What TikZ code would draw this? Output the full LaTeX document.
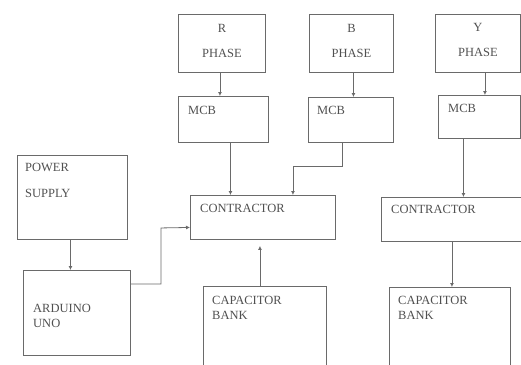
\documentclass[tikz,border=0pt]{standalone}
\usepackage{fontspec}
\setmainfont{Liberation Serif}
\usetikzlibrary{arrows.meta, positioning}
\definecolor{line_gray}{HTML}{6A6A6A}
\definecolor{text_gray}{HTML}{505050}
\tikzstyle{block_node} = [rectangle, draw=line_gray, line width=0.9pt, anchor=north west, inner sep=0pt]
\tikzstyle{block_text} = [font=\fontsize{12.5}{14}\selectfont, text=text_gray, inner sep=0pt, align=left]
\tikzstyle{wire_arrow} = [draw=line_gray, line width=0.8pt, -{Latex[length=4pt, width=4pt]}]

\begin{document}
\begin{tikzpicture}[x=1pt, y=-1pt]
\useasboundingbox (0,0) rectangle (521,364);

% phase sources
\node (r_phase) [block_node, minimum width=87pt, minimum height=58pt] at (178,14) {};
\node (b_phase) [block_node, minimum width=84pt, minimum height=58pt] at (309,14) {};
\node (y_phase) [block_node, minimum width=85pt, minimum height=58pt] at (435,14) {};
\node (r_txt) [block_text, align=center, below=10pt of r_phase.north] {R\\[11pt]PHASE};
\node (b_txt) [block_text, align=center, below=10pt of b_phase.north] {B\\[11pt]PHASE};
\node (y_txt) [block_text, align=center, below=9pt of y_phase.north] {Y\\[11pt]PHASE};

% breakers
\node (mcb_r) [block_node, minimum width=90pt, minimum height=46pt] at (178,96) {};
\node (mcb_b) [block_node, minimum width=85pt, minimum height=45pt] at (308,97) {};
\node (mcb_y) [block_node, minimum width=82pt, minimum height=43pt] at (438,95) {};
\node (mcb_r_txt) [block_text, below right=10pt and 10pt of mcb_r.north west] {MCB};
\node (mcb_b_txt) [block_text, below right=9pt and 9pt of mcb_b.north west] {MCB};
\node (mcb_y_txt) [block_text, below right=9pt and 10pt of mcb_y.north west] {MCB};

% supply and controller
\node (power) [block_node, minimum width=110pt, minimum height=84pt] at (17,155) {};
\node (arduino) [block_node, minimum width=107pt, minimum height=85pt] at (23,270) {};
\node (power_txt) [block_text, below right=8pt and 8pt of power.north west] {POWER\\[12pt]SUPPLY};
\node (arduino_txt) [block_text, below right=34pt and 10pt of arduino.north west] {ARDUINO\\[1pt]UNO};

% contactors and capacitor banks
\node (contr_a) [block_node, minimum width=145pt, minimum height=44pt] at (190,195) {};
\node (contr_b) [block_node, minimum width=145pt, minimum height=44pt] at (381,197) {};
\node (cap_a) [block_node, minimum width=123pt, minimum height=82pt] at (203,286) {};
\node (cap_b) [block_node, minimum width=121pt, minimum height=81pt] at (389,287) {};
\node (contr_a_txt) [block_text, below right=9pt and 10pt of contr_a.north west] {CONTRACTOR};
\node (contr_b_txt) [block_text, below right=8pt and 10pt of contr_b.north west] {CONTRACTOR};
\node (cap_a_txt) [block_text, below right=10pt and 9pt of cap_a.north west] {CAPACITOR\\[1pt]BANK};
\node (cap_b_txt) [block_text, below right=9pt and 9pt of cap_b.north west] {CAPACITOR\\[1pt]BANK};

\draw [wire_arrow] ([xshift=-2pt]r_phase.south) -- ([xshift=-2pt]r_phase.south |- mcb_r.north);
\draw [wire_arrow] ([xshift=2pt]b_phase.south) -- ([xshift=2pt]b_phase.south |- mcb_b.north);
\draw [wire_arrow] ([xshift=7pt]y_phase.south) -- ([xshift=7pt]y_phase.south |- mcb_y.north);
\draw [wire_arrow] ([xshift=7pt]mcb_r.south) -- ([xshift=7pt]mcb_r.south |- contr_a.north);
\draw [wire_arrow] ([xshift=-9pt]mcb_b.south) -- ++(0,23) -| ([xshift=30pt]contr_a.north);
\draw [wire_arrow] ([xshift=-16pt]mcb_y.south) -- ([xshift=-16pt]mcb_y.south |- contr_b.north);
\draw [wire_arrow] (power.south) ++(-2pt,0) -- ([xshift=-2pt]power.south |- arduino.north);
\draw [wire_arrow] ([yshift=29pt]arduino.east) -| ++(30,-56) -- ([yshift=-10pt]contr_a.west);
\draw [wire_arrow] ([xshift=-5pt]cap_a.north) -- ([xshift=-5pt, yshift=-6pt]cap_a.north |- contr_a.south);
\draw [wire_arrow] ([xshift=-2pt]contr_b.south) -- ([xshift=-2pt]contr_b.south |- cap_b.north);
\end{tikzpicture}
\end{document}
